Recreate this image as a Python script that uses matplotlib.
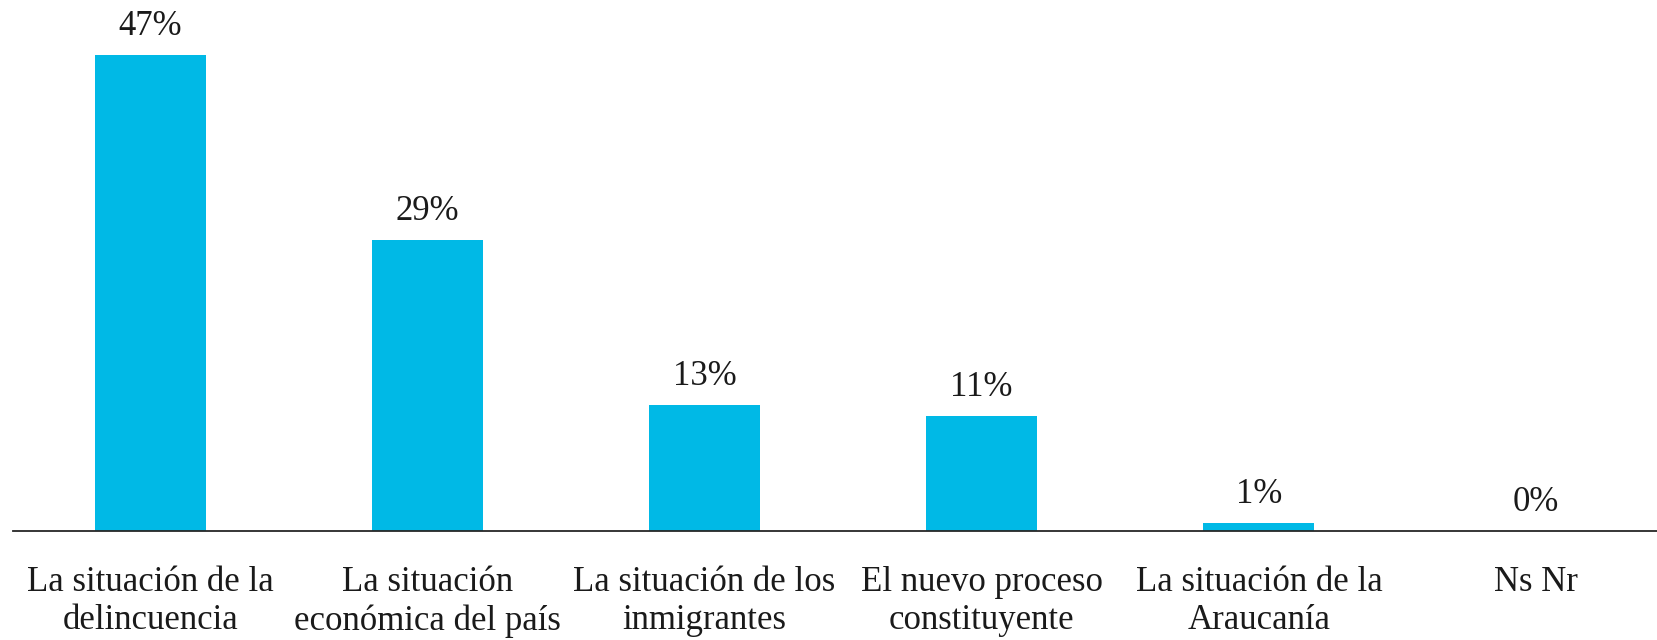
import matplotlib.pyplot as plt

categories = ['La situación de la\ndelincuencia', 'La situación\neconómica del país',
              'La situación de los\ninmigrantes', 'El nuevo proceso\nconstituyente',
              'La situación de la\nAraucanía', 'Ns Nr']
values = [47, 28.7, 12.4, 11.4, 0.75, 0]
value_labels = ['47%', '29%', '13%', '11%', '1%', '0%']

plt.rcParams['font.family'] = ['Liberation Serif', 'DejaVu Serif']

fig = plt.figure(figsize=(16.58, 6.4), dpi=100)
ax = fig.add_axes([13 / 1658, (640 - 531) / 640, 1 - 13 / 1658, 476 / 640])

x = range(len(categories))
ax.bar(x, values, width=0.4, color='#00B9E6')
for xi, v, lab in zip(x, values, value_labels):
    ax.annotate(lab, (xi, v), xytext=(0, 20.5), textcoords='offset points',
                ha='center', va='center', fontsize=25, color='#1a1a1a')

ax.set_xlim(-0.495, 5.44)
ax.set_ylim(0, 47)
ax.set_xticks(list(x))
ax.set_xticklabels(categories, fontsize=25, color='#1a1a1a', linespacing=1.22)
ax.tick_params(axis='x', length=0, pad=25)
ax.set_yticks([])
for s in ['top', 'right', 'left']:
    ax.spines[s].set_visible(False)
ax.spines['bottom'].set_color('#262626')
ax.spines['bottom'].set_linewidth(1.3)

fig.savefig('out.png', dpi=100)
